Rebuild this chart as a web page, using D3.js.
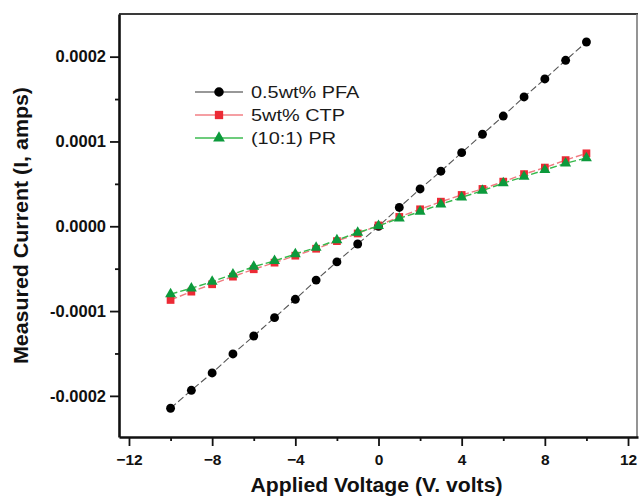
<!DOCTYPE html>
<html>
<head>
<meta charset="utf-8">
<script src="https://cdn.jsdelivr.net/npm/d3@7"></script>
<style>
  html, body { margin: 0; padding: 0; background: #fff; }
  svg { display: block; }
  text { font-family: Arial, "Liberation Sans", sans-serif; }
</style>
</head>
<body>
<svg id="chart" width="640" height="497"></svg>
<script>
// Applied voltage (V) for every measurement
const voltage = [-10, -9, -8, -7, -6, -5, -4, -3, -2, -1, 0, 1, 2, 3, 4, 5, 6, 7, 8, 9, 10];

// Measured current (A) per sample
const pfa = [-2.146e-4, -1.934e-4, -1.730e-4, -1.506e-4, -1.294e-4, -1.078e-4, -0.861e-4, -0.635e-4, -0.420e-4, -0.209e-4,
             0.000e-4, 0.222e-4, 0.440e-4, 0.649e-4, 0.868e-4, 1.085e-4, 1.300e-4, 1.525e-4, 1.737e-4, 1.957e-4, 2.173e-4];
const ctp = [-0.869e-4, -0.771e-4, -0.684e-4, -0.594e-4, -0.507e-4, -0.429e-4, -0.347e-4, -0.265e-4, -0.175e-4, -0.085e-4,
             0.010e-4, 0.110e-4, 0.200e-4, 0.290e-4, 0.369e-4, 0.440e-4, 0.526e-4, 0.615e-4, 0.692e-4, 0.780e-4, 0.860e-4];
const pr  = [-0.800e-4, -0.731e-4, -0.653e-4, -0.566e-4, -0.476e-4, -0.409e-4, -0.327e-4, -0.252e-4, -0.162e-4, -0.075e-4,
             0.004e-4, 0.094e-4, 0.172e-4, 0.260e-4, 0.340e-4, 0.420e-4, 0.508e-4, 0.585e-4, 0.664e-4, 0.742e-4, 0.805e-4];

const seriesNames = ["0.5wt% PFA", "5wt% CTP", "(10:1) PR"];

// Tick values
const xMajorTicks = [-12, -8, -4, 0, 4, 8, 12];
const xMinorTicks = [-10, -6, -2, 2, 6, 10];
const yMajorTicks = [-0.0002, -0.0001, 0, 0.0001, 0.0002];
const yMinorTicks = [-0.00015, -0.00005, 0.00005, 0.00015];

const xTitle = "Applied Voltage (V. volts)";
const yTitle = "Measured Current (I, amps)";

// ---- layout ----
const W = 640, H = 497;
const margin = { left: 119, top: 14, right: 2, bottom: 60 };
const svg = d3.select("#chart");

const x = d3.scaleLinear().domain([-12.48, 12.48]).range([margin.left, W - margin.right]);
const y = d3.scaleLinear().domain([-0.0002485, 0.0002503]).range([H - margin.bottom, margin.top]);

const styles = [
  { values: pfa, symbol: d3.symbolCircle,   size: 62, fill: "#000000", line: "#555555", legendLine: "#333333", width: 1.1 },
  { values: ctp, symbol: d3.symbolSquare,   size: 60, fill: "#ec2a35", line: "#f07a80", legendLine: "#f27f85", width: 1.4 },
  { values: pr,  symbol: d3.symbolTriangle, size: 52, fill: "#0c9a3c", line: "#35b84a", legendLine: "#3cbb50", width: 1.4 }
];

// ---- frame ----
svg.append("line")
  .attr("x1", x.range()[0]).attr("x2", x.range()[1])
  .attr("y1", margin.top).attr("y2", margin.top)
  .attr("stroke", "#3a3a3a").attr("stroke-width", 2);
svg.append("line")
  .attr("x1", x.range()[1] - 1).attr("x2", x.range()[1] - 1)
  .attr("y1", margin.top).attr("y2", H - margin.bottom)
  .attr("stroke", "#7a7a7a").attr("stroke-width", 1.6);

// ---- axes ----
const fmtY = v => d3.format(".4f")(v).replace("\u2212", "-");

const xAxisG = svg.append("g").attr("transform", `translate(0,${H - margin.bottom})`);
xAxisG.append("g")
  .call(d3.axisBottom(x).tickValues(xMinorTicks).tickSize(4).tickFormat(""))
  .call(g => g.select(".domain").remove());
xAxisG.append("g")
  .call(d3.axisBottom(x).tickValues(xMajorTicks).tickSize(9).tickPadding(8).tickSizeOuter(0))
  .call(g => g.select(".domain").attr("stroke", "#111").attr("stroke-width", 2.6))
  .call(g => g.selectAll("text").attr("font-size", 15.5).attr("font-weight", "bold").attr("fill", "#111"));
xAxisG.selectAll(".tick line").attr("stroke", "#111").attr("stroke-width", 1.8);

const yAxisG = svg.append("g").attr("transform", `translate(${margin.left},0)`);
yAxisG.append("g")
  .call(d3.axisLeft(y).tickValues(yMinorTicks).tickSize(4).tickFormat(""))
  .call(g => g.select(".domain").remove());
yAxisG.append("g")
  .call(d3.axisLeft(y).tickValues(yMajorTicks).tickSize(9).tickPadding(4).tickSizeOuter(0).tickFormat(fmtY))
  .call(g => g.select(".domain").attr("stroke", "#111").attr("stroke-width", 2.6))
  .call(g => g.selectAll("text").attr("font-size", 16.5).attr("font-weight", "bold").attr("fill", "#111"));
yAxisG.selectAll(".tick line").attr("stroke", "#111").attr("stroke-width", 1.8);

// ---- axis titles ----
svg.append("text")
  .attr("x", (x.range()[0] + x.range()[1]) / 2 - 2)
  .attr("y", 491.5)
  .attr("text-anchor", "middle")
  .attr("font-size", 19.5).attr("font-weight", "bold").attr("fill", "#111")
  .attr("textLength", 252).attr("lengthAdjust", "spacingAndGlyphs")
  .text(xTitle);

svg.append("text")
  .attr("transform", `translate(27.5,${(y.range()[0] + y.range()[1]) / 2}) rotate(-90)`)
  .attr("text-anchor", "middle")
  .attr("font-size", 20.5).attr("font-weight", "bold").attr("fill", "#111")
  .attr("textLength", 277).attr("lengthAdjust", "spacingAndGlyphs")
  .text(yTitle);

// ---- series ----
const lineGen = d3.line().x((d, i) => x(voltage[i])).y(d => y(d));

styles.forEach(s => {
  const g = svg.append("g");
  g.append("path")
    .datum(s.values)
    .attr("d", lineGen)
    .attr("fill", "none")
    .attr("stroke", s.line)
    .attr("stroke-width", s.width)
    .attr("stroke-dasharray", "7,3");
  g.selectAll("path.mark")
    .data(s.values)
    .join("path")
    .attr("class", "mark")
    .attr("transform", (d, i) => `translate(${x(voltage[i])},${y(d)})`)
    .attr("d", d3.symbol().type(s.symbol).size(s.size))
    .attr("fill", s.fill);
});

// ---- legend ----
const legend = svg.append("g").attr("transform", "translate(195,92)");
styles.forEach((s, i) => {
  const row = legend.append("g").attr("transform", `translate(0,${i * 23})`);
  row.append("line")
    .attr("x1", 0).attr("x2", 48).attr("y1", 0).attr("y2", 0)
    .attr("stroke", s.legendLine).attr("stroke-width", s.width);
  row.append("path")
    .attr("transform", "translate(24,0)")
    .attr("d", d3.symbol().type(s.symbol).size(s.size * 1.15))
    .attr("fill", s.fill);
  row.append("text")
    .attr("x", 0).attr("y", 6)
    .attr("transform", "translate(56,0) scale(1.17,1)")
    .attr("font-size", 17).attr("fill", "#1a1a1a")
    .text(seriesNames[i]);
});
</script>
</body>
</html>
